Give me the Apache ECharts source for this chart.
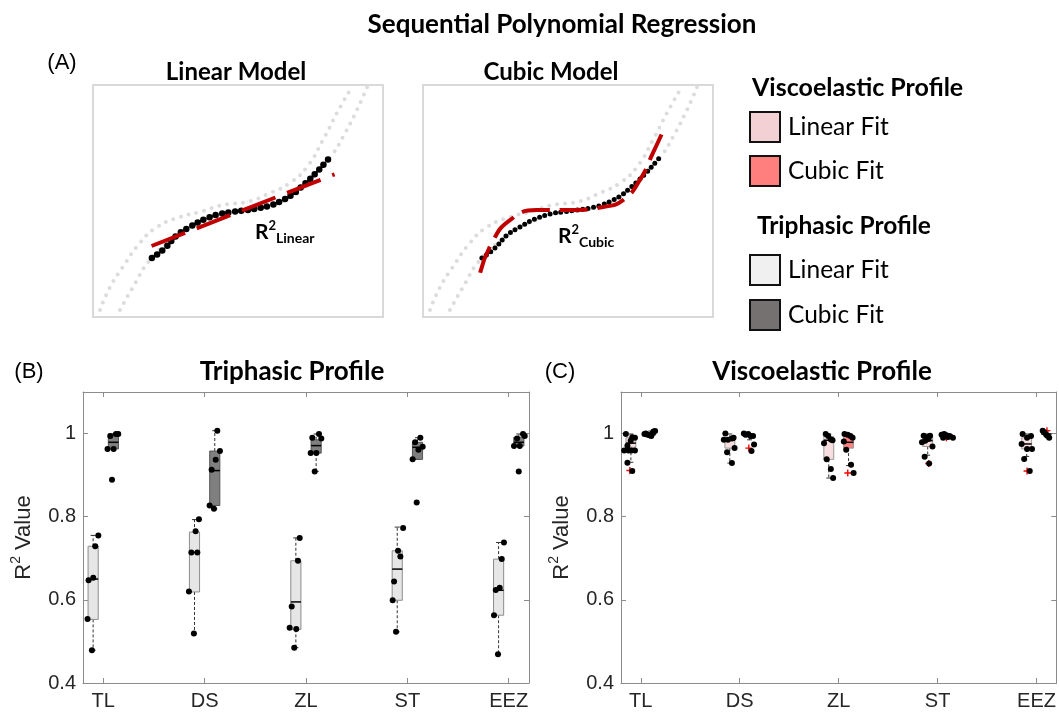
<!DOCTYPE html>
<html>
<head>
<meta charset="utf-8">
<title>Sequential Polynomial Regression</title>
<script src="https://cdn.jsdelivr.net/npm/echarts@6/dist/echarts.min.js"></script>
<style>
html, body { margin: 0; padding: 0; background: #fff; }
#chart { width: 1059px; height: 717px; }
</style>
</head>
<body>
<div id="chart"></div>
<script>
const cats = ['TL', 'DS', 'ZL', 'ST', 'EEZ']
const catTicks = [1, 2, 3, 4, 5]
const yTicks = [0.4, 0.6, 0.8, 1]

// panel A, both small plots share the same 0-100 units
const measured = [[20.3, 25.4], [24.8, 29.7], [29.0, 35.3], [33.4, 38.8], [38.6, 42.2], [43.8, 44.4], [48.3, 45.3], [53.1, 46.1], [57.6, 47.0], [61.7, 48.3], [65.5, 50.4], [69.0, 53.0], [71.4, 55.6], [74.1, 58.6], [77.2, 62.5], [80.0, 66.4], [82.4, 69.8]]
const refUpper = [[2.4, 3.0], [5.9, 12.9], [10.3, 21.6], [16.2, 31.9], [22.1, 38.8], [30.0, 43.1], [36.9, 45.3], [44.8, 48.3], [53.1, 49.6], [61.0, 53.4], [67.9, 57.8], [73.8, 64.7], [79.3, 76.3], [84.1, 87.9], [88.6, 97.8]]
const refLower = [[9.3, 3.0], [13.8, 12.9], [19.7, 24.6], [29.0, 34.9], [38.6, 41.8], [48.3, 45.3], [57.6, 46.6], [65.5, 50.0], [71.4, 55.2], [77.2, 62.5], [82.4, 69.8], [86.2, 77.6], [91.0, 89.2], [94.5, 99.1]]
const linearFit = [[20.2, 30.6], [83.3, 61.5]]
const cubicFit = [[19.7, 19.1], [23.7, 31.9], [30.0, 41.8], [39.2, 46.1], [50.7, 46.1], [62.1, 47.4], [69.0, 50.4], [74.8, 59.1], [79.3, 70.7], [83.4, 81.9]]

// box stats per category: [low whisker, q1, median, q3, high whisker]
const triLinearBox = [[0.479, 0.553, 0.650, 0.729, 0.755], [0.519, 0.619, 0.714, 0.763, 0.793], [0.485, 0.529, 0.595, 0.694, 0.749], [0.523, 0.599, 0.674, 0.718, 0.775], [0.469, 0.563, 0.623, 0.698, 0.738]]
const triCubicBox = [[0.963, 0.963, 0.979, 0.999, 0.999], [0.819, 0.827, 0.911, 0.958, 1.007], [0.909, 0.953, 0.971, 0.985, 0.999], [0.938, 0.938, 0.967, 0.979, 0.990], [0.970, 0.970, 0.979, 0.991, 0.999]]
const viscoLinearBox = [[0.931, 0.967, 0.977, 0.990, 0.999], [0.929, 0.965, 0.984, 0.989, 0.999], [0.893, 0.938, 0.984, 0.993, 0.999], [0.948, 0.969, 0.983, 0.993, 0.999], [0.945, 0.963, 0.975, 0.990, 0.999]]
const viscoCubicBox = [[0.994, 0.996, 0.998, 0.999, 1.006], [0.985, 0.992, 0.995, 0.998, 1.000], [0.923, 0.965, 0.979, 0.993, 0.999], [0.992, 0.994, 0.996, 0.998, 0.999], [0.996, 0.998, 0.999, 1.000, 1.004]]

// individual samples: [category, x offset from tick, R2]
const triLinearPts = [
  [1, -0.145, 0.647], [1, -0.099, 0.653], [1, -0.079, 0.729], [1, -0.049, 0.755], [1, -0.155, 0.554], [1, -0.112, 0.479],
  [2, -0.056, 0.794], [2, -0.089, 0.765], [2, -0.131, 0.714], [2, -0.072, 0.714], [2, -0.155, 0.620], [2, -0.106, 0.519],
  [3, -0.062, 0.749], [3, -0.079, 0.694], [3, -0.141, 0.584], [3, -0.161, 0.533], [3, -0.096, 0.530], [3, -0.116, 0.485],
  [4, -0.042, 0.773], [4, -0.092, 0.718], [4, -0.069, 0.704], [4, -0.131, 0.644], [4, -0.145, 0.599], [4, -0.112, 0.523],
  [5, -0.047, 0.738], [5, -0.069, 0.698], [5, -0.089, 0.629], [5, -0.128, 0.624], [5, -0.145, 0.563], [5, -0.106, 0.469]
]
const triCubicPts = [
  [1, 0.042, 0.963], [1, 0.102, 0.963], [1, 0.069, 0.994], [1, 0.125, 0.999], [1, 0.148, 0.999], [1, 0.086, 0.889],
  [2, 0.125, 1.007], [2, 0.151, 0.958], [2, 0.109, 0.937], [2, 0.069, 0.913], [2, 0.049, 0.827], [2, 0.092, 0.819],
  [3, 0.128, 0.999], [3, 0.062, 0.990], [3, 0.151, 0.988], [3, 0.046, 0.953], [3, 0.102, 0.953], [3, 0.086, 0.909],
  [4, 0.128, 0.990], [4, 0.076, 0.979], [4, 0.151, 0.968], [4, 0.109, 0.961], [4, 0.052, 0.938], [4, 0.092, 0.834],
  [5, 0.141, 0.999], [5, 0.158, 0.994], [5, 0.082, 0.988], [5, 0.052, 0.970], [5, 0.109, 0.970], [5, 0.099, 0.909]
]
const viscoLinearPts = [
  [1, -0.151, 0.999], [1, -0.168, 0.959], [1, -0.125, 0.959], [1, -0.135, 0.971], [1, -0.102, 0.983], [1, -0.086, 0.991], [1, -0.059, 0.990], [1, -0.059, 0.959], [1, -0.096, 0.959], [1, -0.135, 0.930], [1, -0.086, 0.910],
  [2, -0.145, 1.000], [2, -0.161, 0.985], [2, -0.119, 0.985], [2, -0.079, 0.988], [2, -0.062, 0.990], [2, -0.128, 0.955], [2, -0.052, 0.965], [2, -0.079, 0.929],
  [3, -0.131, 0.999], [3, -0.106, 0.994], [3, -0.079, 0.986], [3, -0.062, 0.984], [3, -0.148, 0.977], [3, -0.121, 0.938], [3, -0.079, 0.915], [3, -0.056, 0.893],
  [4, -0.141, 0.995], [4, -0.109, 0.991], [4, -0.076, 0.995], [4, -0.158, 0.979], [4, -0.125, 0.983], [4, -0.092, 0.987], [4, -0.052, 0.969], [4, -0.131, 0.944], [4, -0.086, 0.928],
  [5, -0.141, 0.999], [5, -0.096, 0.990], [5, -0.056, 0.994], [5, -0.151, 0.975], [5, -0.096, 0.963], [5, -0.046, 0.963], [5, -0.125, 0.939], [5, -0.069, 0.910]
]
const viscoCubicPts = [
  [1, 0.037, 0.999], [1, 0.062, 0.998], [1, 0.086, 0.996], [1, 0.106, 0.994], [1, 0.128, 1.005], [1, 0.145, 1.006], [1, 0.112, 0.999], [1, 0.050, 1.000],
  [2, 0.042, 1.000], [2, 0.086, 0.999], [2, 0.109, 0.994], [2, 0.135, 0.994], [2, 0.059, 0.997], [2, 0.145, 0.974], [2, 0.119, 0.958],
  [3, 0.059, 0.999], [3, 0.092, 0.997], [3, 0.119, 0.994], [3, 0.141, 0.990], [3, 0.052, 0.981], [3, 0.076, 0.961], [3, 0.125, 0.925], [3, 0.151, 0.905],
  [4, 0.040, 0.997], [4, 0.066, 0.999], [4, 0.089, 0.996], [4, 0.121, 0.994], [4, 0.155, 0.990], [4, 0.056, 0.990], [4, 0.106, 0.992],
  [5, 0.062, 1.007], [5, 0.096, 0.998], [5, 0.079, 1.003], [5, 0.109, 0.995], [5, 0.128, 0.990]
]
const viscoOutliers = [[1, -0.110, 0.911], [2, 0.092, 0.965], [3, 0.092, 0.905], [4, -0.090, 0.928], [4, 0.089, 0.990], [5, -0.096, 0.910], [5, 0.105, 1.007]]

const chart = echarts.init(document.getElementById('chart'))

const labelFont = 'Liberation Sans'
const calibri = 'Lato'
const axisGray = '#8c8c8c'

function boxSeries (stats, shift, fill, stroke, xi) {
  return {
    type: 'custom',
    xAxisIndex: xi,
    yAxisIndex: xi,
    silent: true,
    z: 2,
    encode: { x: 0, y: [1, 2, 3, 4, 5] },
    data: stats.map((s, i) => [i + 1 + shift].concat(s)),
    renderItem: (params, api) => {
      const x = api.value(0)
      const hw = api.size([0.05, 0])[0]
      const lo = api.coord([x, api.value(1)])
      const q1 = api.coord([x, api.value(2)])
      const md = api.coord([x, api.value(3)])
      const q3 = api.coord([x, api.value(4)])
      const hi = api.coord([x, api.value(5)])
      const cx = lo[0]
      const dash = { stroke: '#333', lineWidth: 1, lineDash: [3, 2] }
      const solid = { stroke: '#333', lineWidth: 1 }
      return {
        type: 'group',
        children: [
          { type: 'line', shape: { x1: cx, y1: q3[1], x2: cx, y2: hi[1] }, style: dash },
          { type: 'line', shape: { x1: cx, y1: q1[1], x2: cx, y2: lo[1] }, style: dash },
          { type: 'line', shape: { x1: cx - hw / 2, y1: hi[1], x2: cx + hw / 2, y2: hi[1] }, style: solid },
          { type: 'line', shape: { x1: cx - hw / 2, y1: lo[1], x2: cx + hw / 2, y2: lo[1] }, style: solid },
          { type: 'rect', shape: { x: cx - hw, y: q3[1], width: 2 * hw, height: Math.max(q1[1] - q3[1], 1) }, style: { fill: fill, stroke: stroke, lineWidth: 1 } },
          { type: 'line', shape: { x1: cx - hw, y1: md[1], x2: cx + hw, y2: md[1] }, style: { stroke: '#000', lineWidth: 1.5 } }
        ]
      }
    }
  }
}

function dotSeries (pts, xi) {
  return {
    type: 'scatter',
    xAxisIndex: xi,
    yAxisIndex: xi,
    silent: true,
    z: 4,
    symbolSize: 6,
    itemStyle: { color: '#000', opacity: 1 },
    data: pts.map(p => [p[0] + p[1], p[2]])
  }
}

function panelAxes (gi) {
  const tick = { inside: true, length: 5, lineStyle: { color: axisGray } }
  const line = { show: true, lineStyle: { color: axisGray, width: 1 } }
  return {
    x: [{
      type: 'value', gridIndex: gi, min: 0.8, max: 5.2, position: 'bottom',
      axisLine: line, splitLine: { show: false },
      axisTick: Object.assign({ customValues: catTicks }, tick),
      axisLabel: { customValues: catTicks, formatter: v => cats[Math.round(v) - 1], fontFamily: labelFont, fontSize: 20, color: '#262626', margin: 8 }
    }, {
      type: 'value', gridIndex: gi, min: 0.8, max: 5.2, position: 'top',
      axisLine: line, splitLine: { show: false },
      axisTick: Object.assign({ customValues: catTicks }, tick),
      axisLabel: { show: false }
    }],
    y: [{
      type: 'value', gridIndex: gi, min: 0.4, max: 1.1, position: 'left',
      axisLine: line, splitLine: { show: false },
      axisTick: Object.assign({ customValues: yTicks }, tick),
      axisLabel: { customValues: yTicks, formatter: v => (v === 1 ? '1' : v.toFixed(1)), fontFamily: labelFont, fontSize: 20, color: '#262626', margin: 7 },
      name: '{a|R}{b|2}{a| Value}',
      nameLocation: 'middle',
      nameRotate: 90,
      nameGap: 44,
      nameTextStyle: {
        color: '#262626',
        rich: {
          a: { fontFamily: labelFont, fontSize: 22, lineHeight: 30, color: '#262626' },
          b: { fontFamily: labelFont, fontSize: 14, lineHeight: 14, verticalAlign: 'top', color: '#262626' }
        }
      }
    }, {
      type: 'value', gridIndex: gi, min: 0.4, max: 1.1, position: 'right',
      axisLine: line, splitLine: { show: false },
      axisTick: Object.assign({ customValues: yTicks }, tick),
      axisLabel: { show: false }
    }]
  }
}

const bAxes = panelAxes(2)
const cAxes = panelAxes(3)

const xAxes = [
  { type: 'value', gridIndex: 0, min: 0, max: 100, show: false },
  { type: 'value', gridIndex: 1, min: 0, max: 100, show: false },
  bAxes.x[0], cAxes.x[0], bAxes.x[1], cAxes.x[1]
]
const yAxes = [
  { type: 'value', gridIndex: 0, min: 0, max: 100, show: false },
  { type: 'value', gridIndex: 1, min: 0, max: 100, show: false },
  bAxes.y[0], cAxes.y[0], bAxes.y[1], cAxes.y[1]
]

function curve (data, gi, style, smooth) {
  return {
    type: 'line', xAxisIndex: gi, yAxisIndex: gi, data: data,
    smooth: smooth, showSymbol: false, silent: true, clip: true,
    lineStyle: style
  }
}

const grayDots = { color: '#dcdcdc', width: 4, type: [0, 8], cap: 'round' }

const series = []
;[0, 1].forEach(gi => {
  series.push(curve(refUpper, gi, grayDots, true))
  series.push(curve(refLower, gi, grayDots, true))
  series.push(curve(measured, gi, gi === 0
    ? { color: '#000', width: 6.5, type: [0, 6.5], cap: 'round' }
    : { color: '#000', width: 5, type: [0, 5.5], cap: 'round' }, true))
})
series.push(curve(linearFit, 0, { color: '#c00000', width: 4, type: [36, 12.5] }, false))
series.push(curve(cubicFit, 1, { color: '#c00000', width: 4, type: [28, 10] }, true))

series.push(boxSeries(triLinearBox, -0.1, '#e6e6e6', '#8c8c8c', 2))
series.push(boxSeries(triCubicBox, 0.1, '#7f7f7f', '#555555', 2))
series.push(dotSeries(triLinearPts, 2))
series.push(dotSeries(triCubicPts, 2))

series.push(boxSeries(viscoLinearBox, -0.1, '#f6dede', '#999999', 3))
series.push(boxSeries(viscoCubicBox, 0.1, '#ff8080', '#999999', 3))
series.push(dotSeries(viscoLinearPts, 3))
series.push(dotSeries(viscoCubicPts, 3))
series.push({
  type: 'scatter', xAxisIndex: 3, yAxisIndex: 3, silent: true, z: 3,
  symbol: 'path://M4,0H6V4H10V6H6V10H4V6H0V4H4Z', symbolSize: 7,
  itemStyle: { color: '#ff0000', opacity: 1 },
  data: viscoOutliers.map(p => [p[0] + p[1], p[2]])
})

function txt (x, y, text, font, align) {
  return {
    type: 'text', x: x, y: y, silent: true,
    style: { text: text, font: font, fill: '#000', align: align || 'center', verticalAlign: 'middle' }
  }
}
function swatch (y, fill) {
  return { type: 'rect', silent: true, shape: { x: 750, y: y, width: 30, height: 30 }, style: { fill: fill, stroke: '#111', lineWidth: 2 } }
}
function r2Label (x, y, sub) {
  return {
    type: 'text', x: x, y: y, silent: true,
    style: {
      text: '{r|R}{s|2}{u|' + sub + '}',
      align: 'left',
      verticalAlign: 'middle',
      rich: {
        r: { font: 'bold 21px ' + calibri, lineHeight: 26, fill: '#000' },
        s: { font: 'bold 13px ' + calibri, lineHeight: 13, verticalAlign: 'top', fill: '#000' },
        u: { font: 'bold 14px ' + calibri, lineHeight: 16, verticalAlign: 'bottom', fill: '#000' }
      }
    }
  }
}

const option = {
  animation: false,
  backgroundColor: '#fff',
  grid: [
    { left: 93, top: 85, width: 290, height: 232, show: true, borderColor: '#d9d9d9', borderWidth: 2 },
    { left: 423, top: 85, width: 290, height: 232, show: true, borderColor: '#d9d9d9', borderWidth: 2 },
    { left: 83, top: 392, width: 446, height: 291 },
    { left: 621, top: 392, width: 446, height: 291 }
  ],
  xAxis: xAxes,
  yAxis: yAxes,
  series: series,
  graphic: [
    txt(562, 25, 'Sequential Polynomial Regression', 'bold 26px ' + calibri),
    txt(62, 63, '(A)', '22px ' + labelFont),
    txt(236, 72, 'Linear Model', 'bold 24px ' + calibri),
    txt(551, 72, 'Cubic Model', 'bold 24px ' + calibri),
    r2Label(255, 232, 'Linear'),
    r2Label(558, 236, 'Cubic'),
    txt(752, 88, 'Viscoelastic Profile', 'bold 25px ' + calibri, 'left'),
    swatch(112, '#f2d0d3'),
    txt(788, 127, 'Linear Fit', '24.5px ' + calibri, 'left'),
    swatch(156, '#ff7f7f'),
    txt(788, 171, 'Cubic Fit', '24.5px ' + calibri, 'left'),
    txt(757, 226, 'Triphasic Profile', 'bold 24.5px ' + calibri, 'left'),
    swatch(255, '#f0f0f0'),
    txt(788, 270, 'Linear Fit', '24.5px ' + calibri, 'left'),
    swatch(300, '#767171'),
    txt(788, 315, 'Cubic Fit', '24.5px ' + calibri, 'left'),
    txt(29, 372, '(B)', '22px ' + labelFont),
    txt(292, 372, 'Triphasic Profile', 'bold 26px ' + calibri),
    txt(560, 372, '(C)', '22px ' + labelFont),
    txt(822, 372, 'Viscoelastic Profile', 'bold 26px ' + calibri)
  ]
}

chart.setOption(option)
</script>
</body>
</html>
